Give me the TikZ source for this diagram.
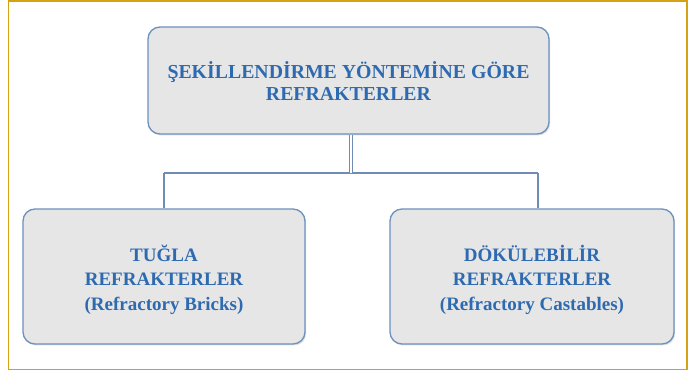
\documentclass[tikz,border=0pt]{standalone}
\usepackage{fontspec}
\setmainfont{Liberation Serif}
\usepackage{tikz}
\usetikzlibrary{shadows}
\definecolor{frameGold}{RGB}{214,162,20}
\definecolor{boxBlue}{RGB}{108,145,190}
\definecolor{lineBlue}{RGB}{110,140,180}
\definecolor{txtBlue}{RGB}{46,106,176}
\definecolor{boxGray}{RGB}{230,230,230}

\begin{document}
\begin{tikzpicture}[x=1pt, y=-1pt,
    box/.style={draw=boxBlue, line width=1.3pt, fill=boxGray, rounded corners=12pt,
                drop shadow={shadow xshift=1.2pt, shadow yshift=-1.5pt, opacity=0.25}},
    lbl/.style={text=txtBlue, font=\bfseries, align=center},
    conn/.style={draw=lineBlue, line width=1.1pt}]
  \useasboundingbox (0,0) rectangle (694,371);
  \draw[frameGold, line width=1.6pt] (8.5,0.8) rectangle (687,369.5);

  \node[box, minimum width=401pt, minimum height=107pt] (top) at (348.5,80.5) {};
  \node[lbl, font=\fontsize{19.8}{22}\selectfont\bfseries] (toptxt) at ([yshift=-1pt]top.center)
    {ŞEKİLLENDİRME YÖNTEMİNE GÖRE\\REFRAKTERLER};

  \node[box, minimum width=282pt, minimum height=135pt] (brick) at (164,276.5) {};
  \node[lbl, font=\fontsize{19}{24.5}\selectfont\bfseries] (bricktxt) at ([yshift=-3pt]brick.center)
    {TUĞLA\\REFRAKTERLER\\(Refractory Bricks)};

  \node[box, minimum width=284pt, minimum height=135pt] (cast) at (532,276.5) {};
  \node[lbl, font=\fontsize{19}{24.5}\selectfont\bfseries] (casttxt) at ([yshift=-3pt]cast.center)
    {DÖKÜLEBİLİR\\REFRAKTERLER\\(Refractory Castables)};

  \coordinate (split) at (351,173);
  \coordinate (leftend) at (164,173);
  \coordinate (rightend) at (538,173);
  \draw[conn] (leftend) -- (rightend);
  \draw[conn] (leftend) -- (brick.north);
  \draw[conn] (rightend) -- (rightend |- cast.north);
  \draw[conn, double=white, double distance=2.6pt, line width=0.9pt] (top.south -| split) -- (split);
\end{tikzpicture}
\end{document}
